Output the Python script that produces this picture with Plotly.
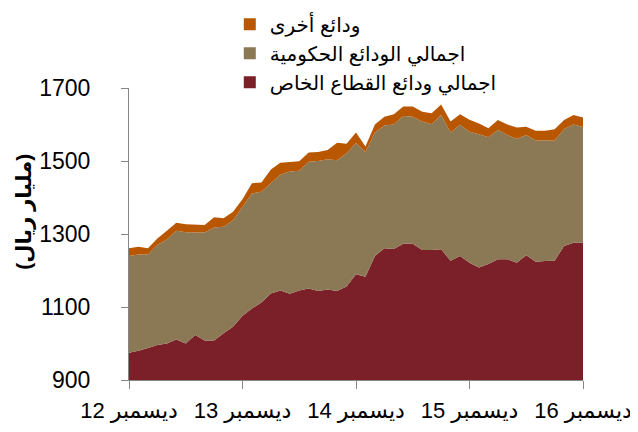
import plotly.graph_objects as go

months = list(range(49))
tick_positions = [0, 12, 24, 36, 48]
tick_labels = ["ديسمبر 12", "ديسمبر 13", "ديسمبر 14", "ديسمبر 15", "ديسمبر 16"]

private = [975, 980, 988, 996, 1000, 1011, 1000, 1023, 1008, 1008, 1028, 1046, 1076,
           1096, 1112, 1137, 1145, 1136, 1145, 1151, 1144, 1148, 1144, 1156, 1190,
           1183, 1240, 1261, 1259, 1273, 1273, 1256, 1256, 1258, 1227, 1240, 1221,
           1208, 1218, 1231, 1231, 1221, 1242, 1224, 1226, 1227, 1267, 1276, 1276]
government = [265, 264, 256, 274, 285, 298, 305, 282, 296, 310, 292, 292, 297,
              315, 304, 302, 317, 335, 328, 347, 356, 357, 358, 365, 359,
              342, 338, 336, 341, 350, 348, 352, 345, 368, 351, 359, 359,
              365, 347, 354, 340, 339, 329, 332, 329, 329, 321, 324, 317]
other = [21, 21, 17, 18, 24, 22, 22, 22, 21, 28, 23, 23, 22,
         28, 25, 38, 33, 26, 26, 25, 25, 25, 48, 26, 29,
         15, 22, 24, 28, 26, 28, 27, 30, 29, 30, 29, 33,
         30, 25, 27, 29, 32, 23, 27, 28, 31, 24, 26, 26]

names = ["اجمالي ودائع القطاع الخاص", "اجمالي الودائع الحكومية", "ودائع أخرى"]
colors = ["#7B1F28", "#8B7855", "#B85700"]
series = [private, government, other]

fig = go.Figure()
for name, col, vals in zip(names, colors, series):
    fig.add_trace(go.Scatter(
        x=months, y=vals, stackgroup="one", mode="lines",
        line=dict(width=0, color=col), fillcolor=col,
        name=name, showlegend=False, hoverinfo="skip"))

# legend entries (top to bottom: other, government, private)
for i, (name, col) in enumerate(reversed(list(zip(names, colors)))):
    fig.add_trace(go.Scatter(
        x=[None], y=[None], mode="markers",
        marker=dict(symbol="square", size=13, color=col),
        name=name, legendgroup=f"g{i}", showlegend=True))

font_family = "Liberation Sans, Arial, DejaVu Sans, sans-serif"

# page body has an 8px margin, so the figure is 8px smaller than the window
fig.update_layout(
    width=630, height=424,
    margin=dict(l=121, r=55, t=80, b=52, autoexpand=False),
    paper_bgcolor="white", plot_bgcolor="white",
    font=dict(family=font_family, size=22, color="black"),
    showlegend=True,
    legend=dict(
        x=0.222, y=1.285, xanchor="left", yanchor="top",
        font=dict(size=20, color="black"),
        bgcolor="rgba(0,0,0,0)", tracegroupgap=10,
        traceorder="normal", itemsizing="constant"),
    xaxis=dict(
        range=[0, 48], tickmode="array", tickvals=tick_positions, ticktext=tick_labels,
        showgrid=False, zeroline=False, showline=True, linecolor="#868686", linewidth=1,
        ticks="outside", ticklen=8, tickcolor="#868686", tickfont=dict(size=22),
        ticklabelstandoff=3),
    yaxis=dict(
        range=[900, 1700], tickvals=[900, 1100, 1300, 1500, 1700],
        showgrid=False, zeroline=False, showline=True, linecolor="#868686", linewidth=1,
        ticks="outside", ticklen=7, tickcolor="#868686", tickfont=dict(size=23),
        ticklabelstandoff=26),
    annotations=[dict(
        text="<b>(مليار ريال)</b>", textangle=-90, xref="paper", yref="paper",
        x=-0.232, y=0.575, xanchor="center", yanchor="middle", showarrow=False,
        font=dict(size=21, color="black"))],
)

fig.write_html("out.html")
